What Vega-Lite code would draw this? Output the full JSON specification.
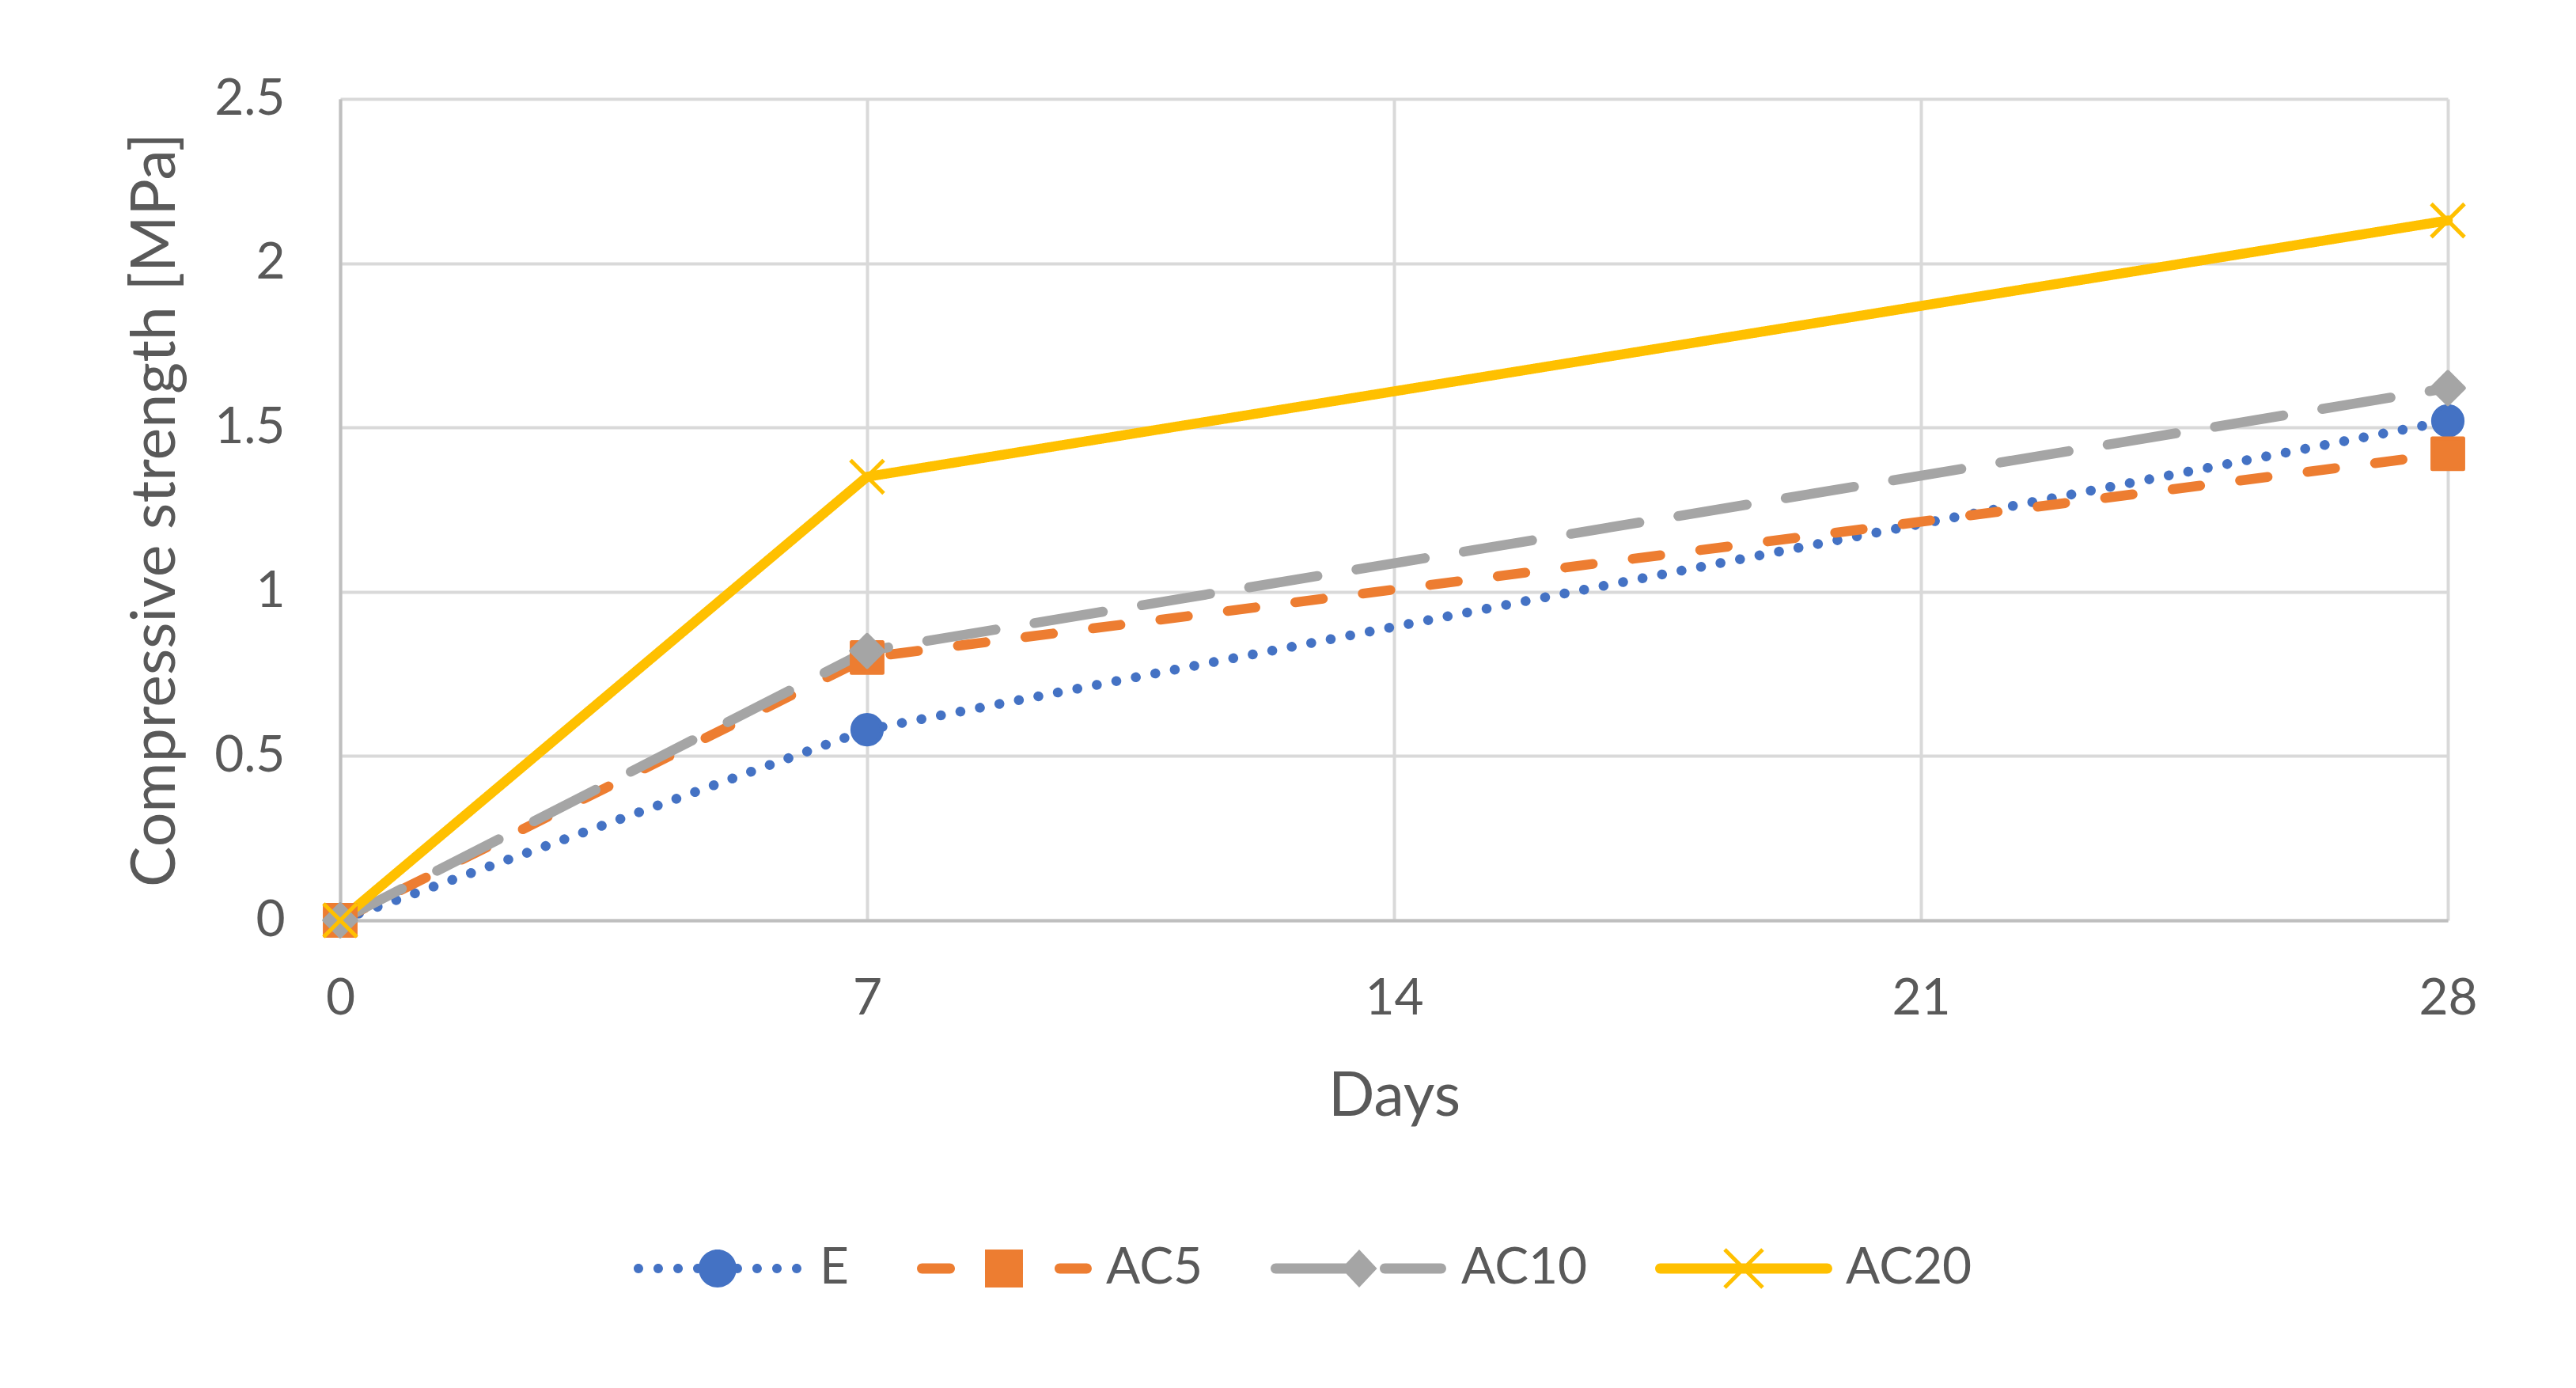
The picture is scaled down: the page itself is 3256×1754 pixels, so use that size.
{
  "$schema": "https://vega.github.io/schema/vega-lite/v6.json",
  "width": 2664,
  "height": 1038,
  "autosize": {"type": "none"},
  "padding": {"left": 430, "top": 125, "right": 162, "bottom": 591},
  "background": "white",
  "data": {
    "values": [
      {"day": 0, "series": "E", "strength": 0},
      {"day": 7, "series": "E", "strength": 0.58},
      {"day": 28, "series": "E", "strength": 1.52},
      {"day": 0, "series": "AC5", "strength": 0},
      {"day": 7, "series": "AC5", "strength": 0.8},
      {"day": 28, "series": "AC5", "strength": 1.42},
      {"day": 0, "series": "AC10", "strength": 0},
      {"day": 7, "series": "AC10", "strength": 0.82},
      {"day": 28, "series": "AC10", "strength": 1.62},
      {"day": 0, "series": "AC20", "strength": 0},
      {"day": 7, "series": "AC20", "strength": 1.35},
      {"day": 28, "series": "AC20", "strength": 2.13}
    ]
  },
  "encoding": {
    "x": {
      "field": "day",
      "type": "quantitative",
      "title": "Days",
      "scale": {"domain": [0, 28], "nice": false, "zero": false},
      "axis": {"values": [0, 7, 14, 21, 28], "format": "d", "labelFlush": false, "labelPadding": 67, "titlePadding": 54}
    },
    "y": {
      "field": "strength",
      "type": "quantitative",
      "title": "Compressive strength [MPa]",
      "scale": {"domain": [0, 2.5], "nice": false},
      "axis": {"values": [0, 0.5, 1, 1.5, 2, 2.5], "format": "~g", "labelFlush": false, "labelPadding": 70, "titlePadding": 34}
    }
  },
  "layer": [
    {
      "mark": {"type": "line", "strokeWidth": 12.5, "strokeCap": "round", "strokeJoin": "round"},
      "encoding": {
        "color": {
          "field": "series",
          "type": "nominal",
          "scale": {"domain": ["E", "AC5", "AC10", "AC20"], "range": ["#4472C4", "#ED7D31", "#A5A5A5", "#FFC000"]},
          "legend": null
        },
        "strokeDash": {
          "field": "series",
          "type": "nominal",
          "scale": {"domain": ["E", "AC5", "AC10", "AC20"], "range": [[0.1, 25], [35, 51], [87.5, 50], [1, 0]]},
          "legend": null
        }
      }
    },
    {
      "mark": {"type": "point", "filled": true, "opacity": 1, "strokeWidth": 5, "strokeJoin": "round"},
      "encoding": {
        "color": {
          "field": "series",
          "type": "nominal",
          "scale": {"domain": ["E", "AC5", "AC10", "AC20"], "range": ["#4472C4", "#ED7D31", "#A5A5A5", "#FFC000"]},
          "legend": null
        },
        "stroke": {
          "field": "series",
          "type": "nominal",
          "scale": {"domain": ["E", "AC5", "AC10", "AC20"], "range": ["#4472C4", "#ED7D31", "#A5A5A5", "#FFC000"]},
          "legend": null
        },
        "shape": {
          "field": "series",
          "type": "nominal",
          "scale": {"domain": ["E", "AC5", "AC10", "AC20"], "range": ["circle", "square", "diamond", "M-1,-1L1,1M-1,1L1,-1"]},
          "legend": null
        },
        "size": {
          "field": "series",
          "type": "nominal",
          "scale": {"domain": ["E", "AC5", "AC10", "AC20"], "range": [1385, 1764, 1764, 1764]},
          "legend": null
        }
      }
    },
    {
      "transform": [{"filter": "datum.day < 0"}],
      "mark": {"type": "point", "filled": true, "opacity": 1},
      "encoding": {
        "color": {
          "field": "series",
          "type": "nominal",
          "scale": {"domain": ["E", "AC5", "AC10", "AC20"], "range": ["#4472C4", "#ED7D31", "#A5A5A5", "#FFC000"]},
          "legend": {
            "orient": "none", "legendX": 366, "legendY": 1367, "direction": "horizontal", "title": null,
            "symbolSize": 49284, "symbolStrokeWidth": 0, "symbolOpacity": 1, "labelOffset": 18, "columnPadding": 85,
            "labelFont": "Lato", "labelFontSize": 64, "labelColor": "#595959", "labelLimit": 500, "padding": 0
          }
        },
        "shape": {
          "field": "series",
          "type": "nominal",
          "scale": {
            "domain": ["E", "AC5", "AC10", "AC20"],
            "range": [
              "M-0.216,0A0.216,0.216 0 1,1 0.216,0A0.216,0.216 0 1,1 -0.216,0Z M-0.955,0A0.054,0.054 0 1,1 -0.847,0A0.054,0.054 0 1,1 -0.955,0Z M-0.730,0A0.054,0.054 0 1,1 -0.622,0A0.054,0.054 0 1,1 -0.730,0Z M-0.504,0A0.054,0.054 0 1,1 -0.396,0A0.054,0.054 0 1,1 -0.504,0Z M-0.279,0A0.054,0.054 0 1,1 -0.171,0A0.054,0.054 0 1,1 -0.279,0Z M0.171,0A0.054,0.054 0 1,1 0.279,0A0.054,0.054 0 1,1 0.171,0Z M0.396,0A0.054,0.054 0 1,1 0.504,0A0.054,0.054 0 1,1 0.396,0Z M0.622,0A0.054,0.054 0 1,1 0.730,0A0.054,0.054 0 1,1 0.622,0Z M0.847,0A0.054,0.054 0 1,1 0.955,0A0.054,0.054 0 1,1 0.847,0Z",
              "M-0.932,-0.0586H-0.617A0.0586,0.0586 0 0,1 -0.617,0.0586H-0.932A0.0586,0.0586 0 0,1 -0.932,-0.0586Z M-0.216,-0.216H0.216V0.216H-0.216Z M0.635,-0.0586H0.941A0.0586,0.0586 0 0,1 0.941,0.0586H0.635A0.0586,0.0586 0 0,1 0.635,-0.0586Z",
              "M-0.95,-0.0586H-0.1V0.0586H-0.95A0.0586,0.0586 0 0,1 -0.95,-0.0586Z M0,-0.216L0.203,0L0,0.216L-0.203,0Z M0.293,-0.0586H0.932A0.0586,0.0586 0 0,1 0.932,0.0586H0.293A0.0586,0.0586 0 0,1 0.293,-0.0586Z",
              "M-0.95,-0.0586H0.95A0.0586,0.0586 0 0,1 0.95,0.0586H-0.95A0.0586,0.0586 0 0,1 -0.95,-0.0586Z M-0.200,-0.232L0.232,0.200L0.200,0.232L-0.232,-0.200Z M-0.232,0.200L0.200,-0.232L0.232,-0.200L-0.200,0.232Z"
            ]
          },
          "legend": {
            "orient": "none", "legendX": 366, "legendY": 1367, "direction": "horizontal", "title": null,
            "symbolSize": 49284, "symbolStrokeWidth": 0, "symbolOpacity": 1, "labelOffset": 18, "columnPadding": 85,
            "labelFont": "Lato", "labelFontSize": 64, "labelColor": "#595959", "labelLimit": 500, "padding": 0
          }
        }
      }
    }
  ],
  "resolve": {"scale": {"color": "independent", "shape": "independent"}},
  "config": {
    "view": {"stroke": null},
    "font": "Lato",
    "axis": {
      "grid": true,
      "gridColor": "#D9D9D9",
      "gridWidth": 4,
      "domainColor": "#BFBFBF",
      "domainWidth": 4,
      "ticks": false,
      "tickSize": 0,
      "labelFont": "Lato",
      "labelFontSize": 64,
      "labelColor": "#595959",
      "titleFont": "Lato",
      "titleFontSize": 77,
      "titleFontWeight": "normal",
      "titleColor": "#595959"
    }
  }
}
